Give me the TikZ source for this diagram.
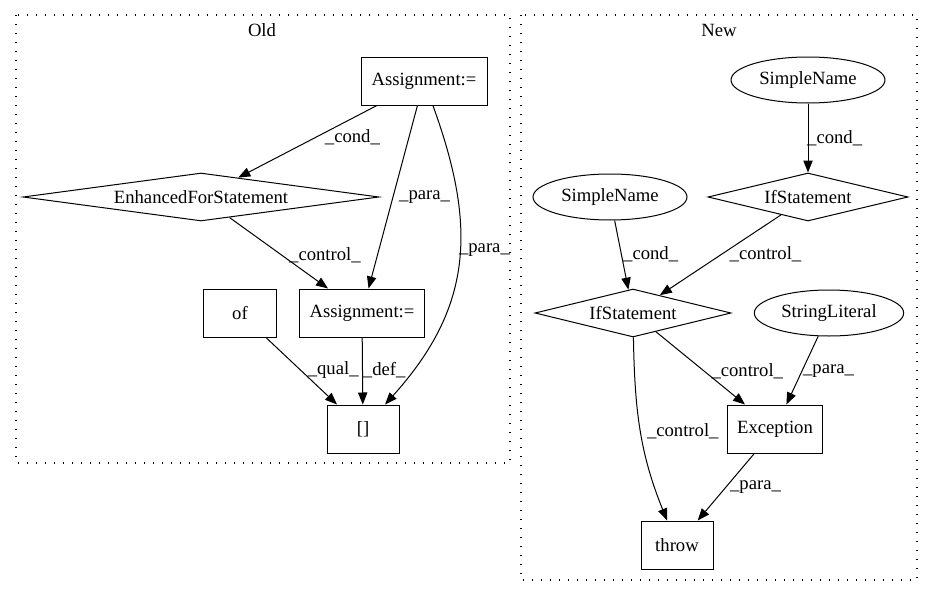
\documentclass[tikz,border=0pt]{standalone}
\usepackage{fontspec}
\setmainfont{Liberation Serif}
\usetikzlibrary{arrows.meta,shapes.geometric,calc}

\begin{document}
\begin{tikzpicture}[x=0.75pt, y=0.75pt, >={Triangle[length=9pt,width=7pt]},
  every node/.style={font=\fontsize{14}{16}\selectfont},
  box/.style={draw, rectangle, line width=0.75pt, minimum height=36pt, inner sep=3pt},
  dia/.style={draw, diamond, aspect=7, inner sep=0pt, minimum height=36pt, line width=0.75pt},
  oval/.style={draw, ellipse, inner sep=0pt, minimum height=34.5pt, line width=0.75pt},
  edge/.style={->, line width=0.75pt},
  lbl/.style={inner sep=2pt},
  cluster/.style={line width=1pt, dash pattern=on 1pt off 5.75pt}]
  % рамка картинки
  \useasboundingbox (0,0) rectangle (933,-596);

  % старая версия
  \draw[cluster] (16,-15) rectangle (510,-463);
  \node (oldT) at (262,-30) {Old};

  \node[box, minimum width=94.5pt] (asgA) at (424,-81)  {Assignment:=};
  \node[dia, minimum width=267pt]  (efor) at (201,-197) {EnhancedForStatement};
  \node[box, minimum width=54.75pt] (of)  at (240,-313) {of};
  \node[box, minimum width=94pt]   (asgB) at (362,-313) {Assignment:=};
  \node[box, minimum width=54pt]   (idx)  at (363,-429) {[]};

  \draw[edge] (asgA) -- node[lbl, pos=0.44, right=4.4pt] {\_cond\_} (efor);
  \draw[edge] (asgA) -- node[lbl, pos=0.5, right=2.3pt] {\_para\_} (asgB);
  \draw[edge] (asgA) to[out=-70, in=48, looseness=1.1]
    node[lbl, pos=0.45, right=-3pt] {\_para\_} (idx);
  \draw[edge] (efor) -- node[lbl, pos=0.53, right=3.2pt] {\_control\_} (asgB);
  \draw[edge] (of) -- node[lbl, pos=0.49, right=2.9pt] {\_qual\_} (idx);
  \draw[edge] (asgB) -- node[lbl, pos=0.49, right=-2pt] {\_def\_} (idx);

  % новая версия
  \draw[cluster] (521,-15) rectangle (917,-580);
  \node (newT) at (719,-30) {New};

  \node[oval, minimum width=115.5pt] (snA) at (808,-80)  {SimpleName};
  \node[dia, minimum width=150pt]    (ifA) at (808,-197) {IfStatement};
  \node[oval, minimum width=115.5pt] (snB) at (610,-197) {SimpleName};
  \node[dia, minimum width=147pt]    (ifB) at (633,-313) {IfStatement};
  \node[oval, minimum width=112pt]   (str) at (829,-313) {StringLiteral};
  \node[box, minimum width=71pt]     (exc) at (775,-429) {Exception};
  \node[box, minimum width=54pt]     (thr) at (677,-545) {throw};

  \draw[edge] (snA) -- node[lbl, pos=0.5, right=-3pt] {\_cond\_} (ifA);
  \draw[edge] (ifA) -- node[lbl, pos=0.49, right=3.7pt] {\_control\_} (ifB);
  \draw[edge] (snB) -- node[lbl, pos=0.49, right=-1pt] {\_cond\_} (ifB);
  \draw[edge] (ifB) -- node[lbl, pos=0.54, right=3.2pt] {\_control\_} (exc);
  \draw[edge] (str) -- node[lbl, pos=0.51, right=-1.5pt] {\_para\_} (exc);
  \draw[edge] (ifB) to[out=-89, in=112]
    node[lbl, pos=0.5, right=2.5pt] {\_control\_} (thr);
  \draw[edge] (exc) -- node[lbl, pos=0.5, right=0.7pt] {\_para\_} (thr);
\end{tikzpicture}
\end{document}
